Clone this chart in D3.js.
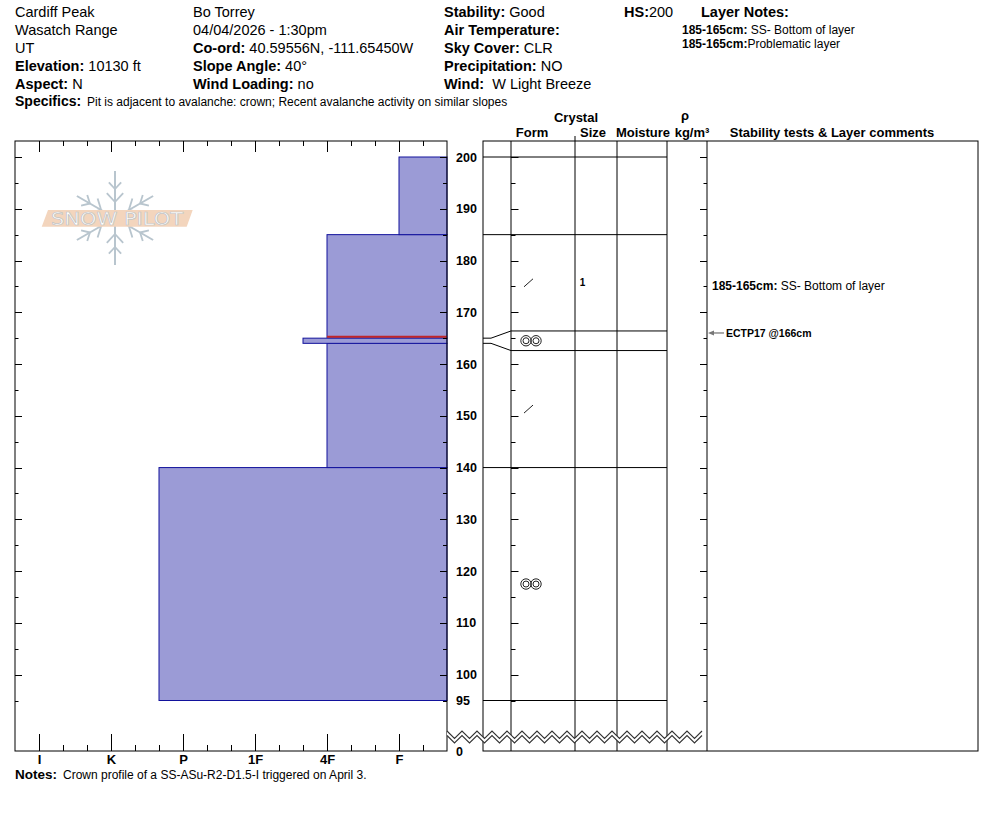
<!DOCTYPE html>
<html>
<head>
<meta charset="utf-8">
<script src="https://cdn.jsdelivr.net/npm/d3@7"></script>
<style>
  body { margin: 0; background: #fff; }
  svg { display: block; }
  text { font-family: Arial, "Liberation Sans", sans-serif; white-space: pre; }
</style>
</head>
<body>
<svg id="chart" width="994" height="840"></svg>
<script>
// Snow profile layers (cm from ground)
const layerTop = [200, 185, 165, 164, 140];
const layerBottom = [185, 165, 164, 140, 95];
const layerHardness = ['F', '4F', '4F+', '4F', 'P+'];
const layerForm = ['', 'DF', 'MF', 'DF', 'MF'];
const layerSize = ['', '1', '', '', ''];

const hardnessLabels = ['I', 'K', 'P', '1F', '4F', 'F'];
const depthLabels = [200, 190, 180, 170, 160, 150, 140, 130, 120, 110, 100, 95];
const criticalDepth = 165;

const testDepth = [166];
const testLabel = ['ECTP17 @166cm'];

const commentTop = [185];
const commentBottom = [165];
const commentText = ['SS- Bottom of layer'];

const headerCol1 = [['Cardiff Peak', ''], ['Wasatch Range', ''], ['UT', ''], ['', 'Elevation:', ' 10130 ft'], ['', 'Aspect:', ' N']];
const headerCol2 = [['Bo Torrey', ''], ['04/04/2026 - 1:30pm', ''], ['', 'Co-ord:', ' 40.59556N, -111.65450W'], ['', 'Slope Angle:', ' 40°'], ['', 'Wind Loading:', ' no']];
const headerCol3 = [['', 'Stability:', ' Good'], ['', 'Air Temperature:', ''], ['', 'Sky Cover:', ' CLR'], ['', 'Precipitation:', ' NO'], ['', 'Wind:', '  W Light Breeze']];
const layerNotes = [['185-165cm:', ' SS- Bottom of layer'], ['185-165cm:', 'Problematic layer']];
const specifics = 'Pit is adjacent to avalanche: crown; Recent avalanche activity on similar slopes';
const notes = 'Crown profile of a SS-ASu-R2-D1.5-I triggered on April 3.';

const svg = d3.select('#chart');
svg.append('rect').attr('width', 994).attr('height', 840).attr('fill', '#fff');

const plotTop = 141, plotBottom = 751;
const hLeft = 15, hRight = 447;
const x = d3.scaleLinear().domain([0, 18]).range([hRight, hLeft]);
const y = d3.scaleLinear().domain([95, 200]).range([700.5, 157]);

const hardBase = { F: 2, '4F': 5, '1F': 8, P: 11, K: 14, I: 17 };
function hardIndex(s) {
    const mod = s.endsWith('+') ? 1 : s.endsWith('-') ? -1 : 0;
    return hardBase[s.replace(/[+-]$/, '')] + mod;
}

function richText(g, px, py, parts, size) {
    const t = g.append('text').attr('x', px).attr('y', py).attr('font-size', size).attr('fill', '#000');
    parts.forEach(([txt, bold]) => {
        if (txt) t.append('tspan').attr('font-weight', bold ? 'bold' : 'normal').text(txt);
    });
    return t;
}

// ---- header ----
const head = svg.append('g');
const rowY = i => 17 + i * 17.9;
function headerColumn(rows, px) {
    rows.forEach((r, i) => {
        if (r[0]) richText(head, px, rowY(i), [[r[0], false]], 14.5);
        else richText(head, px, rowY(i), [[r[1], true], [r[2], false]], 14.5);
    });
}
headerColumn(headerCol1, 15);
headerColumn(headerCol2, 193);
headerColumn(headerCol3, 444);
richText(head, 624, rowY(0), [['HS:', true], ['200', false]], 14.5);
richText(head, 701, rowY(0), [['Layer Notes:', true]], 14.5);
layerNotes.forEach((n, i) => richText(head, 682, 34 + i * 14, [[n[0], true], [n[1], false]], 12));
richText(head, 15, 106, [['Specifics:', true]], 14);
richText(head, 87, 106, [[specifics, false]], 12);

// ---- watermark ----
const wm = svg.append('g').attr('transform', 'translate(115,218)');
[90, 30, 150, 210, 270, 330].forEach(a => {
    const r = a * Math.PI / 180;
    const L = (a === 90 || a === 270) ? 47 : 44;
    const ux = Math.cos(r), uy = -Math.sin(r);
    wm.append('line').attr('x1', ux * 6).attr('y1', uy * 6).attr('x2', ux * L).attr('y2', uy * L)
        .attr('stroke', '#b8c5ce').attr('stroke-width', 2);
    [16, 29].forEach((d, k) => {
        const bl = k === 0 ? 12 : 9;
        [-0.75, 0.75].forEach(s => {
            const br = r + s;
            wm.append('line')
                .attr('x1', ux * d).attr('y1', uy * d)
                .attr('x2', ux * d + Math.cos(br) * bl).attr('y2', uy * d - Math.sin(br) * bl)
                .attr('stroke', '#b8c5ce').attr('stroke-width', 1.8);
        });
    });
});
svg.append('polygon').attr('points', '41.7,226.7 48,210 192.7,210 186.7,226.7').attr('fill', '#f3d5bd');
svg.append('text').attr('x', 117).attr('y', 225).attr('text-anchor', 'middle')
    .attr('font-size', 17).attr('textLength', 132).attr('lengthAdjust', 'spacingAndGlyphs')
    .attr('fill', '#fff').attr('stroke', '#c4c4c4').attr('stroke-width', 0.7)
    .style('font-family', '"DejaVu Sans", sans-serif').text('SNOW PILOT');

// ---- hardness bars ----
const layers = layerTop.map((t, i) => ({
    top: t, bottom: layerBottom[i], hard: layerHardness[i], form: layerForm[i], size: layerSize[i]
}));
const order = d3.range(layers.length).sort((a, b) => (layerTop[a] - layerBottom[a]) - (layerTop[b] - layerBottom[b])).reverse();
svg.append('g').selectAll('rect').data(order.map(i => layers[i])).join('rect')
    .attr('x', d => x(hardIndex(d.hard)))
    .attr('y', d => y(d.top))
    .attr('width', d => hRight - x(hardIndex(d.hard)))
    .attr('height', d => y(d.bottom) - y(d.top))
    .attr('fill', '#9b9bd6')
    .attr('stroke', '#12129c')
    .attr('stroke-width', 1);

// critical layer line
const above = layers.find(d => d.bottom === criticalDepth);
svg.append('line')
    .attr('x1', x(hardIndex(above.hard))).attr('x2', hRight)
    .attr('y1', y(criticalDepth) - 1.5).attr('y2', y(criticalDepth) - 1.5)
    .attr('stroke', '#c0262a').attr('stroke-width', 2);

// hardness frame
svg.append('rect').attr('x', hLeft).attr('y', plotTop).attr('width', hRight - hLeft).attr('height', plotBottom - plotTop)
    .attr('fill', 'none').attr('stroke', '#000');

// hardness axes
const majorIdx = hardnessLabels.map(hardIndex);
const minorIdx = d3.range(1, 18).filter(v => !majorIdx.includes(v));
svg.append('g').attr('transform', `translate(0,${plotTop})`)
    .call(d3.axisBottom(x).tickValues(majorIdx).tickSize(11).tickFormat(''))
    .call(g => g.select('.domain').remove());
svg.append('g').attr('transform', `translate(0,${plotTop})`)
    .call(d3.axisBottom(x).tickValues(minorIdx).tickSize(5).tickFormat(''))
    .call(g => g.select('.domain').remove());
svg.append('g').attr('transform', `translate(0,${plotBottom})`)
    .call(d3.axisBottom(x).tickValues(majorIdx).tickSize(-17).tickPadding(4)
        .tickFormat(v => hardnessLabels[majorIdx.indexOf(v)]))
    .call(g => g.select('.domain').remove())
    .call(g => g.selectAll('text').attr('font-size', 13).attr('font-weight', 'bold')
        .attr('fill', '#000').style('font-family', 'Arial, "Liberation Sans", sans-serif'));
svg.append('g').attr('transform', `translate(0,${plotBottom})`)
    .call(d3.axisBottom(x).tickValues(minorIdx).tickSize(-6).tickFormat(''))
    .call(g => g.select('.domain').remove());

// depth ticks on the vertical lines
const depthTicks = d3.range(95, 201, 5);
const tickLines = [
    { x: hLeft, dir: 1, major: 7, minor: 3.5 },
    { x: hRight, dir: -1, major: 7, minor: 4 },
    { x: 511, dir: 1, major: 7.5, minor: 4.5 },
    { x: 707, dir: -1, major: 7, minor: 3.5 }
];
tickLines.forEach(t => {
    svg.append('g').selectAll('line').data(depthTicks).join('line')
        .attr('x1', t.x).attr('x2', d => t.x + t.dir * (d % 10 === 0 ? t.major : t.minor))
        .attr('y1', d => Math.round(y(d)) + 0.5).attr('y2', d => Math.round(y(d)) + 0.5)
        .attr('stroke', '#000');
});

// depth labels
svg.append('g').attr('transform', `translate(${hRight},0)`)
    .call(d3.axisRight(y).tickValues(depthLabels).tickSize(0).tickPadding(9))
    .call(g => g.select('.domain').remove())
    .call(g => g.selectAll('text').attr('font-size', 12.5).attr('font-weight', 'bold')
        .attr('fill', '#000').style('font-family', 'Arial, "Liberation Sans", sans-serif'));
svg.append('text').attr('x', 456).attr('y', plotBottom + 4.5).attr('font-size', 12.5)
    .attr('font-weight', 'bold').text('0');

// ---- crystal / comments panel ----
const colX = [483, 511, 575, 617, 667, 707, 978];
const panel = svg.append('g');
panel.append('rect').attr('x', colX[0]).attr('y', plotTop).attr('width', colX[6] - colX[0])
    .attr('height', plotBottom - plotTop).attr('fill', 'none').attr('stroke', '#000');
panel.selectAll('line.col').data(colX.slice(1, 6)).join('line').attr('class', 'col')
    .attr('x1', d => d).attr('x2', d => d).attr('y1', plotTop).attr('y2', plotBottom).attr('stroke', '#000');
panel.append('line').attr('x1', 575).attr('x2', 575).attr('y1', 136).attr('y2', plotTop).attr('stroke', '#000');

// boundaries, thin layers widened in the crystal columns
const bounds = [layerTop[0], ...layerBottom];
const minPx = 19.6;
const disp = bounds.map(b => y(b));
layers.forEach((d, i) => {
    const h = y(d.bottom) - y(d.top);
    if (h < minPx) {
        const c = (y(d.top) + y(d.bottom)) / 2;
        disp[i] = c - minPx / 2;
        disp[i + 1] = c + minPx / 2;
    }
});
bounds.forEach((b, i) => {
    const real = y(b);
    if (Math.abs(disp[i] - real) > 0.5) {
        panel.append('polyline')
            .attr('points', `${colX[0]},${real} ${colX[0] + 8},${real} ${colX[1]},${disp[i]} ${colX[4]},${disp[i]}`)
            .attr('fill', 'none').attr('stroke', '#000');
    } else {
        panel.append('line').attr('x1', colX[0]).attr('x2', colX[4])
            .attr('y1', real).attr('y2', real).attr('stroke', '#000');
    }
});

// grain forms and sizes
layers.forEach((d, i) => {
    const cy = (disp[i] + disp[i + 1]) / 2;
    if (d.form === 'DF') {
        panel.append('line').attr('x1', 524).attr('y1', cy + 4).attr('x2', 533).attr('y2', cy - 4)
            .attr('stroke', '#222').attr('stroke-width', 1);
    } else if (d.form === 'MF') {
        [526, 536].forEach(cx => {
            panel.append('circle').attr('cx', cx).attr('cy', cy).attr('r', 5.2).attr('fill', 'none').attr('stroke', '#222');
            panel.append('circle').attr('cx', cx).attr('cy', cy).attr('r', 3).attr('fill', 'none').attr('stroke', '#222');
        });
    }
    if (d.size) {
        panel.append('text').attr('x', 582.5).attr('y', cy + 3.5).attr('text-anchor', 'middle')
            .attr('font-size', 10).attr('font-weight', 'bold').text(d.size);
    }
});

// column headers
const hdr = [['Crystal', 576, 122], ['Form', 532, 137], ['Size', 593, 137], ['Moisture', 643, 137],
             ['ρ', 685, 120], ['kg/m³', 692, 137], ['Stability tests & Layer comments', 832, 137]];
hdr.forEach(([t, hx, hy]) => panel.append('text').attr('x', hx).attr('y', hy).attr('text-anchor', 'middle')
    .attr('font-size', 13).attr('font-weight', 'bold').text(t));

// comments
commentText.forEach((c, i) => {
    const cy = (y(commentTop[i]) + y(commentBottom[i])) / 2;
    richText(panel, 712, cy + 4, [[`${commentTop[i]}-${commentBottom[i]}cm:`, true], [' ' + c, false]], 12);
});
testDepth.forEach((dpt, i) => {
    const ty = y(dpt);
    panel.append('line').attr('x1', 711).attr('x2', 724).attr('y1', ty).attr('y2', ty).attr('stroke', '#555');
    panel.append('path').attr('d', `M708,${ty} L714,${ty - 2.5} L714,${ty + 2.5} Z`).attr('fill', '#777');
    panel.append('text').attr('x', 726).attr('y', ty + 3.7).attr('font-size', 10.5).attr('font-weight', 'bold').text(testLabel[i]);
});

// ---- break zigzag ----
const zz = d3.range(hRight, 707.01, 7.5);
const upper = zz.map((zx, k) => [zx, k % 2 ? 738.5 : 731]);
const lower = zz.map((zx, k) => [zx, k % 2 ? 743 : 735.5]);
svg.append('polygon').attr('points', upper.concat(lower.slice().reverse()).map(p => p.join(',')).join(' '))
    .attr('fill', '#fff').attr('stroke', 'none');
[upper, lower].forEach(pts => svg.append('polyline').attr('points', pts.map(p => p.join(',')).join(' '))
    .attr('fill', 'none').attr('stroke', '#333').attr('stroke-width', 1.1));

// ---- notes ----
richText(svg, 15, 779, [['Notes:', true]], 13.5);
richText(svg, 63, 779, [[notes, false]], 12);
</script>
</body>
</html>
